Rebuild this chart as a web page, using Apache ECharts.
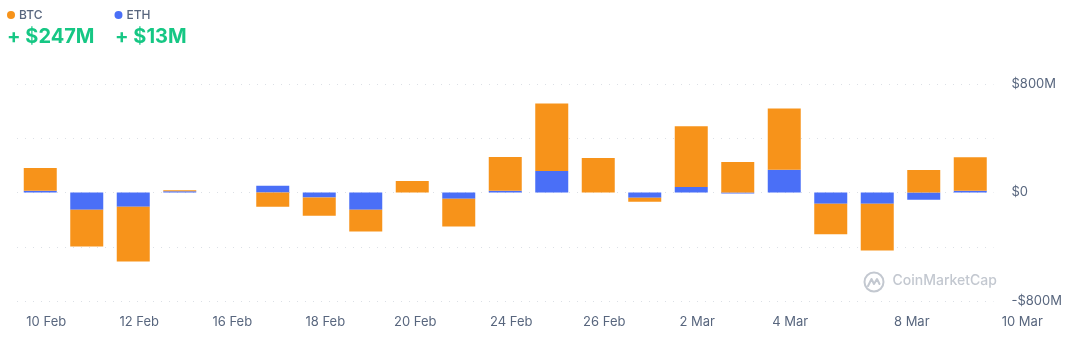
<!DOCTYPE html>
<html>
<head>
<meta charset="utf-8">
<title>BTC / ETH ETF net flows</title>
<script src="https://cdn.jsdelivr.net/npm/echarts@6/dist/echarts.min.js"></script>
<style>
  html, body { margin: 0; padding: 0; background: #ffffff; }
  #chart { width: 1073px; height: 350px; }
</style>
</head>
<body>
<div id="chart"></div>
<script>
// Daily net flows, millions of USD
const days = ['10 Feb', '11 Feb', '12 Feb', '13 Feb', '14 Feb', '18 Feb', '19 Feb',
  '20 Feb', '21 Feb', '24 Feb', '25 Feb', '26 Feb', '27 Feb', '28 Feb', '3 Mar',
  '4 Mar', '5 Mar', '6 Mar', '7 Mar', '9 Mar', '10 Mar'];
const btcFlows = [168, -271, -403, 7, null, -105, -134, -161, 85, -205, 249, 498,
  254, -30, 447, 225, 451, -224, -344, 166, 247];
const ethFlows = [12, -127, -105, 10, null, 49, -37, -127, 0, -46, 12, 159,
  0, -39, 41, -7, 168, -83, -83, -54, 13];
const tickLabels = ['10 Feb', '', '12 Feb', '', '16 Feb', '', '18 Feb', '', '20 Feb', '',
  '24 Feb', '', '26 Feb', '', '2 Mar', '', '4 Mar', '', '', '8 Mar', '10 Mar'];
const yTickLabels = { '800': '$800M', '0': '$0', '-800': '-$800M' };

const BTC_COLOR = '#F7931A';
const ETH_COLOR = '#4A6FF7';
const TEXT_GRAY = '#58667E';
const FONT = 'Inter, "Noto Sans", sans-serif';

// horizontal nudges (px) for the date labels under the bars
const labelShift = i => (i === 20 ? 52 : i === 19 ? -12 : i === 8 ? 3 : 6);

const rich = {};
tickLabels.forEach((t, i) => {
  if (!t) return;
  const s = labelShift(i);
  rich['t' + i] = {
    fontFamily: FONT, fontSize: 13, color: TEXT_GRAY,
    padding: s >= 0 ? [0, 0, 0, 2 * s] : [0, -2 * s, 0, 0]
  };
});

const fmtHead = v => (v >= 0 ? '+ $' : '- $') + Math.abs(v) + 'M';
const lastBtc = btcFlows[btcFlows.length - 1];
const lastEth = ethFlows[ethFlows.length - 1];

const chart = echarts.init(document.getElementById('chart'), null, { renderer: 'canvas' });

chart.setOption({
  animation: false,
  backgroundColor: '#ffffff',
  textStyle: { fontFamily: FONT },
  title: [
    { text: fmtHead(lastBtc), left: 7, top: 27, padding: 0,
      textStyle: { fontFamily: FONT, fontSize: 20, fontWeight: 700, color: '#16C784' } },
    { text: fmtHead(lastEth), left: 115, top: 27, padding: 0,
      textStyle: { fontFamily: FONT, fontSize: 20, fontWeight: 700, color: '#16C784' } }
  ],
  legend: {
    data: ['BTC', 'ETH'],
    left: 7, top: 9,
    icon: 'circle', itemWidth: 8, itemHeight: 8, itemGap: 72,
    padding: 0,
    textStyle: { fontFamily: FONT, fontSize: 12, fontWeight: 500, color: TEXT_GRAY, padding: [0, 0, 0, -1] }
  },
  tooltip: { trigger: 'axis', axisPointer: { type: 'shadow' } },
  grid: { left: 17, right: 79.5, top: 84, bottom: 49, containLabel: false },
  xAxis: {
    type: 'category',
    data: days,
    boundaryGap: true,
    axisLine: { show: false, onZero: false },
    axisTick: { show: false },
    splitLine: { show: false },
    axisLabel: {
      interval: 0,
      margin: 15,
      hideOverlap: false,
      formatter: (v, i) => (tickLabels[i] ? '{t' + i + '|' + tickLabels[i] + '}' : ''),
      rich: rich
    }
  },
  yAxis: {
    type: 'value',
    position: 'right',
    min: -800, max: 800, interval: 400,
    axisLine: { show: false },
    axisTick: { show: false },
    axisLabel: {
      margin: 18,
      fontFamily: FONT, fontSize: 13, color: TEXT_GRAY,
      formatter: v => yTickLabels[String(v)] || ''
    },
    splitLine: { show: true, lineStyle: { color: '#DCE0E6', width: 1, type: [1, 7] } }
  },
  series: [
    { name: 'ETH', type: 'bar', stack: 'flow', data: ethFlows, barWidth: 33,
      itemStyle: { color: ETH_COLOR } },
    { name: 'BTC', type: 'bar', stack: 'flow', data: btcFlows, barWidth: 33,
      itemStyle: { color: BTC_COLOR } }
  ],
  graphic: [
    {
      type: 'group', left: 862, top: 270, silent: true,
      children: [
        { type: 'circle', shape: { cx: 10.5, cy: 10.5, r: 9.5 },
          style: { fill: 'none', stroke: '#C3C8D0', lineWidth: 2 } },
        { type: 'polyline', shape: { points: [[4.5, 14.5], [8, 7.5], [10.5, 12.5], [13.5, 7.5], [16, 12.5]] },
          style: { fill: 'none', stroke: '#C3C8D0', lineWidth: 2, lineJoin: 'round', lineCap: 'round' } },
        { type: 'text', left: 29, top: 2,
          style: { text: 'CoinMarketCap', fontFamily: FONT, fontSize: 14, fontWeight: 500, fill: '#C3C8D0' } }
      ]
    }
  ]
});
</script>
</body>
</html>
